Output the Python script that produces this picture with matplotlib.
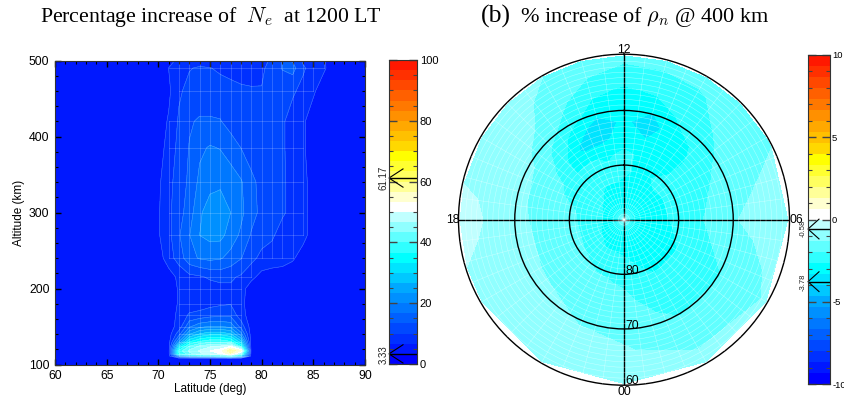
# percentage increase plots: altitude/latitude section and polar map
import numpy as np
import matplotlib
matplotlib.use("Agg")
import matplotlib.pyplot as plt
from matplotlib.colors import ListedColormap, BoundaryNorm

plt.rcParams['font.family'] = ['Liberation Sans', 'DejaVu Sans']
plt.rcParams['mathtext.fontset'] = 'cm'
plt.rcParams['axes.unicode_minus'] = False

band_colors = ['#0000ff', '#0018ff', '#0030ff', '#0048ff', '#0060ff', '#0078ff',
               '#0090ff', '#00a8ff', '#00c8ff', '#00e4ff', '#00ffff', '#30ffff',
               '#60ffff', '#90ffff', '#c0ffff', '#ffffff', '#ffffd0', '#ffff98',
               '#ffff60', '#ffff30', '#ffff00', '#ffd800', '#ffc000', '#ffa800',
               '#ff9000', '#ff7800', '#ff6000', '#ff4800', '#ff3000', '#ff1800']

lats = [60, 69, 70, 71, 72, 73, 74, 75, 76, 77, 78, 79, 80, 81, 82, 83, 84, 85, 86, 87, 90]
alts = [100, 108, 111, 114, 118, 124, 130, 140, 150, 165, 180, 200, 215, 240, 270,
        300, 340, 385, 420, 460, 490, 500]
ne_pct = [
    [5, 5, 5, 5, 5, 5, 5, 5, 5, 5, 5, 5, 5, 5, 5, 5, 5, 5, 5, 5, 5],
    [5, 5, 5, 5, 5, 5, 5, 5, 5, 5, 5, 5, 5, 5, 5, 5, 5, 5, 5, 5, 5],
    [5, 5, 5, 5, 18, 24, 26, 28, 30, 34, 26, 5, 5, 5, 5, 5, 5, 5, 5, 5, 5],
    [5, 5, 5, 5, 36, 42, 46, 48, 50, 56, 42, 5, 5, 5, 5, 5, 5, 5, 5, 5, 5],
    [5, 5, 5, 5, 38, 44, 47, 50, 52, 59, 54, 5, 5, 5, 5, 5, 5, 5, 5, 5, 5],
    [5, 5, 5, 5, 30, 40, 44, 46, 47, 50, 36, 5, 5, 5, 5, 5, 5, 5, 5, 5, 5],
    [5, 5, 5, 5, 20, 33, 37, 39, 39, 37, 28, 5, 5, 5, 5, 5, 5, 5, 5, 5, 5],
    [5, 5, 5, 5, 12, 23, 27, 29, 29, 27, 18, 5, 5, 5, 5, 5, 5, 5, 5, 5, 5],
    [5, 5, 5, 5, 8, 16, 19, 20, 20, 19, 12, 5, 5, 5, 5, 5, 5, 5, 5, 5, 5],
    [5, 5, 5, 5, 7.5, 10.5, 11, 12, 12.5, 12.5, 8, 5, 5, 5, 5, 5, 5, 5, 5, 5, 5],
    [5, 5, 5, 5, 7, 8, 8.5, 9, 9.5, 9.8, 7.5, 5, 5, 5, 5, 5, 5, 5, 5, 5, 5],
    [5, 5, 5, 5, 7, 8, 8.2, 8.5, 9, 9.5, 8, 5, 5, 5, 5, 5, 5, 5, 5, 5, 5],
    [5, 5, 5, 5, 7.5, 9, 9.5, 10.5, 11, 10.5, 9.5, 7.5, 5.5, 5, 5, 5, 5, 5, 5, 5, 5],
    [5, 5, 5, 8.5, 11.5, 15.5, 17, 17.5, 17, 15.5, 13.5, 11, 9, 8.5, 8, 7, 5.5, 5, 5, 5, 5],
    [5, 5, 6.3, 9, 13, 16.5, 20, 21, 21, 18.5, 16, 13, 11.5, 10.5, 8.5, 8, 7.5, 5.5, 5, 5, 5],
    [5, 5, 6.3, 9.3, 12, 15, 19.5, 21.5, 21.5, 20, 17.5, 14.5, 12.5, 11.5, 10.5, 9, 7.5, 5.5, 5, 5, 5],
    [5, 5, 6, 9, 11.5, 14, 17.5, 19, 19.5, 18.5, 17, 14, 12.5, 11.5, 10.5, 9, 7.5, 5.5, 5, 5, 5],
    [5, 5, 5, 8, 11, 13.5, 16, 17, 16.5, 15, 13.3, 12, 11.5, 11, 10.5, 8.5, 7, 5.5, 5, 5, 5],
    [5, 5, 5, 7, 10.5, 13, 13.7, 13.7, 13.5, 12, 11.5, 11.5, 11.5, 11.5, 10.5, 8.5, 7, 5.5, 5, 5, 5],
    [5, 5, 5, 6, 9.5, 11, 11.5, 11.5, 11.3, 11, 10.5, 10.3, 10.2, 11, 11.5, 10.5, 9, 7, 5.5, 5, 5],
    [5, 5, 5, 6.7, 8, 9.8, 10.4, 10.1, 9.5, 9, 8.8, 8.8, 9.3, 11.5, 13.5, 14.5, 10.5, 8.5, 7, 5.5, 5],
    [5, 5, 5, 5.5, 7.5, 8.5, 8.5, 8.5, 8, 8, 8, 8, 9, 10.5, 13.5, 13, 9.5, 8, 6.9, 5.5, 5],
]
ne_min = 3.33
ne_max = 61.17

lts = [0, 2, 4, 6, 8, 9, 10, 11, 12, 13, 14, 15, 16, 18, 20, 22, 24]
rho_lats = [60, 63, 66, 69, 72, 75, 78, 81, 84, 87, 90]
rho_pct = [
    [-1.05, -1.15, -1.27, -1.45, -1.65, -1.85, -2.05, -2.4, -2.75, -2.9, -3.0],
    [-1.2, -1.35, -1.65, -1.95, -2.2, -2.4, -2.6, -2.9, -3.0, -3.0, -3.0],
    [-1.25, -1.5, -1.75, -1.97, -2.15, -2.35, -2.6, -2.85, -2.95, -3.0, -3.0],
    [-0.9, -1.0, -1.15, -1.33, -1.6, -1.95, -2.25, -2.6, -2.85, -3.0, -3.0],
    [-1.4, -1.5, -1.6, -1.8, -2.05, -2.2, -2.4, -2.6, -2.85, -3.0, -3.0],
    [-1.5, -1.7, -1.9, -2.2, -2.6, -2.72, -2.68, -2.55, -2.8, -3.0, -3.0],
    [-1.6, -2.1, -2.3, -2.55, -2.9, -2.85, -2.75, -2.7, -2.9, -3.0, -3.0],
    [-1.8, -2.15, -2.55, -3.2, -3.75, -3.3, -2.8, -2.8, -3.0, -3.0, -3.0],
    [-1.8, -2.25, -2.75, -3.0, -3.2, -3.1, -2.5, -2.5, -2.9, -3.05, -3.0],
    [-1.5, -1.95, -2.5, -2.95, -3.7, -3.45, -2.8, -2.4, -2.8, -3.0, -3.0],
    [-1.33, -1.55, -1.8, -2.2, -2.95, -3.55, -2.6, -2.4, -2.8, -3.0, -3.0],
    [-1.1, -1.15, -1.25, -1.55, -2.15, -2.6, -2.7, -2.3, -2.6, -2.9, -3.0],
    [-0.9, -1.0, -1.1, -1.2, -1.4, -1.75, -2.1, -2.1, -2.5, -2.85, -3.0],
    [-0.5, -0.55, -0.85, -1.05, -1.3, -1.5, -1.7, -1.95, -2.4, -2.8, -3.0],
    [-0.8, -1.0, -1.1, -1.2, -1.3, -1.5, -1.7, -1.95, -2.5, -2.9, -3.0],
    [-1.0, -1.1, -1.2, -1.3, -1.38, -1.6, -1.85, -2.2, -2.7, -2.9, -3.0],
    [-1.05, -1.15, -1.27, -1.45, -1.65, -1.85, -2.05, -2.4, -2.75, -2.9, -3.0],
]
rho_min = -3.78
rho_max = -0.58

W, H = 845, 401
cmap = ListedColormap(band_colors)


def px_axes(x0, y0, x1, y1, **kw):
    return fig.add_axes([x0 / W, 1 - y1 / H, (x1 - x0) / W, (y1 - y0) / H], **kw)


def px_text(x, y, s, **kw):
    kw.setdefault('ha', 'center')
    kw.setdefault('va', 'center')
    fig.text(x / W, 1 - y / H, s, **kw)


def color_bar(ax, vmin, vmax, major, minor, marks, mark_h):
    levels = np.linspace(vmin, vmax, len(band_colors) + 1)
    ax.pcolormesh([0, 1], levels, np.array(levels[:-1]).reshape(-1, 1) + 1e-6,
                  cmap=cmap, norm=BoundaryNorm(levels, cmap.N))
    ax.set_xlim(0, 1)
    ax.set_ylim(vmin, vmax)
    ax.set_xticks([])
    ax.yaxis.tick_right()
    ax.set_yticks(major)
    ax.set_yticks(minor, minor=True)
    ax.tick_params(axis='y', which='major', left=True, right=True, direction='in',
                   length=6, width=1, color='#444444', labelsize=8, pad=2)
    ax.tick_params(axis='y', which='minor', left=True, right=True, direction='in',
                   length=3, width=0.8, color='#444444')
    for s in ax.spines.values():
        s.set_color('#333333')
    for v in marks:
        ax.plot([0, 1], [v, v], color='black', lw=1)
        ax.plot([0.5, 0, 0.5], [v + mark_h, v, v - mark_h], color='black', lw=0.8,
                clip_on=False)


fig = plt.figure(figsize=(W / 100, H / 100), dpi=100)

# left panel
ax = px_axes(55, 60.5, 365, 364.5)
levels = np.linspace(0, 100, len(band_colors) + 1)
ne = np.array(ne_pct)
ax.contourf(lats, alts, ne, levels=levels, cmap=cmap, norm=BoundaryNorm(levels, cmap.N))
ax.contour(lats, alts, ne, levels=levels[2:], colors='white', linewidths=0.4, alpha=0.3)
# faint grid seams show where the field is above background
for j, lat in enumerate(lats):
    on = np.ma.masked_where(ne[:, j] < 6.5, np.array(alts, dtype=float))
    ax.plot(np.full(len(alts), lat), on, color='white', lw=0.5, alpha=0.25)
for i, alt in enumerate(alts):
    on = np.ma.masked_where(ne[i] < 6.5, np.array(lats, dtype=float))
    ax.plot(on, np.full(len(lats), alt), color='white', lw=0.5, alpha=0.25)
ax.set_xlim(60, 90)
ax.set_ylim(100, 500)
ax.set_xticks(np.arange(60, 91, 5))
ax.set_xticks(np.arange(60, 91, 1), minor=True)
ax.set_yticks(np.arange(100, 501, 100))
ax.set_yticks(np.arange(100, 501, 20), minor=True)
ax.tick_params(which='major', direction='in', top=True, right=True, length=4, width=1,
               labelsize=8.8, pad=4)
ax.tick_params(which='minor', direction='in', top=True, right=True, length=2, width=0.8)
for s in ax.spines.values():
    s.set_color('#333333')
px_text(210, 389, 'Latitude (deg)', fontsize=8.5)
px_text(19, 213, 'Altitude (km)', fontsize=8.5, rotation=90)

cax = px_axes(389, 60, 417, 364)
color_bar(cax, 0, 100, np.arange(0, 101, 20), np.arange(0, 101, 5), [ne_min, ne_max], 3)
px_text(384, 178, '61.17', fontsize=7, rotation=90, color='#222222')
px_text(384, 355, '3.33', fontsize=7, rotation=90, color='#222222')

# right panel
pax = px_axes(458.5, 54.2, 789.5, 385.2, projection='polar')
pax.set_theta_zero_location('N')
theta = np.deg2rad((np.array(lts) - 12) * 15.0)
r = 90 - np.array(rho_lats)
levels = np.linspace(-10, 10, len(band_colors) + 1)
pax.contourf(theta, r, np.array(rho_pct).T, levels=levels, cmap=cmap,
             norm=BoundaryNorm(levels, cmap.N))
pax.set_ylim(0, 30.3)
pax.set_xticks(np.deg2rad([0, 90, 180, 270]))
pax.set_yticks([10, 20])
pax.set_xticks(np.deg2rad(np.arange(0, 360, 7.5)), minor=True)
pax.set_yticks(np.arange(0, 30, 1), minor=True)
pax.set_xticklabels([])
pax.set_yticklabels([])
pax.tick_params(which='both', length=0)
pax.set_axisbelow(False)
pax.grid(which='minor', color='white', lw=0.35, alpha=0.5)
pax.grid(which='major', color='black', lw=1)
pax.spines['polar'].set_linewidth(1)
for lab, x, y in [('12', 624, 50), ('18', 453, 220), ('06', 796, 220), ('00', 624, 392),
                  ('80', 632, 271), ('70', 632, 326), ('60', 632, 381)]:
    px_text(x, y, lab, fontsize=8.8)

cax2 = px_axes(808, 55, 830, 384)
color_bar(cax2, -10, 10, [-10, -5, 0, 5, 10], np.arange(-10, 11, 1), [rho_max, rho_min], 0.6)
cax2.tick_params(axis='y', which='major', labelsize=6.8, pad=1.5)
px_text(803, 228, '-0.58', fontsize=5.5, rotation=90, color='#222222')
px_text(803, 282, '-3.78', fontsize=5.5, rotation=90, color='#222222')

# titles
px_text(211, 17, r'Percentage increase of  $N_e$  at 1200 LT', fontsize=15.7,
        family='Liberation Serif')
px_text(496, 16, '(b)', fontsize=18.5, family='Liberation Serif')
px_text(645, 17, r'% increase of $\rho_n$ @ 400 km', fontsize=16,
        family='Liberation Serif')

fig.savefig('out.png', dpi=100)
